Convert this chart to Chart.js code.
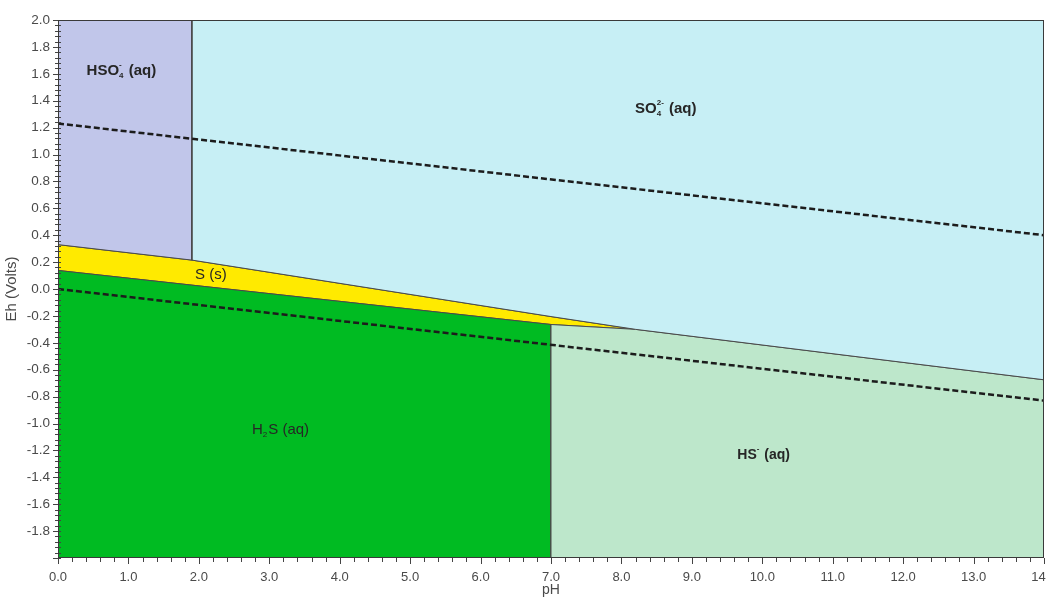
<!DOCTYPE html>
<html>
<head>
<meta charset="utf-8">
<script src="https://cdn.jsdelivr.net/npm/chart.js@4/dist/chart.umd.min.js"></script>
<style>
  html, body { margin: 0; padding: 0; background: #ffffff; overflow: hidden; }
  #wrap { position: relative; width: 1060px; height: 599px; }
</style>
</head>
<body>
<div id="wrap"><canvas id="c"></canvas></div>
<script>
// ---- Region vertices (pH, Eh in volts) ----
const hso4PH = [0, 1.9, 1.9, 0];
const hso4Eh = [2.0, 2.0, 0.215, 0.33];

const so4PH = [1.9, 14, 14, 8.2, 7.0, 1.9];
const so4Eh = [2.0, 2.0, -0.675, -0.30, -0.205, 0.215];

const sPH = [0, 1.9, 7.0, 8.2, 7.0, 0];
const sEh = [0.33, 0.215, -0.205, -0.30, -0.264, 0.138];

const h2sPH = [0, 7.0, 7.0, 0];
const h2sEh = [0.138, -0.264, -2.0, -2.0];

const hsPH = [7.0, 8.2, 14, 14, 7.0];
const hsEh = [-0.264, -0.30, -0.675, -2.0, -2.0];

// ---- Water stability lines ----
const waterUpperPH = [0, 14];
const waterUpperEh = [1.23, 0.40];
const waterLowerPH = [0, 14];
const waterLowerEh = [0.0, -0.83];

// ---- Axis ranges / ticks ----
const xMin = 0, xMax = 14, xStep = 1, xMinorStep = 0.2;
const yMin = -2, yMax = 2, yStep = 0.2, yMinorStep = 0.04;

// ---- Region labels: parts [text, kind, superscript] ----
const regionLabels = [
  { pH: 0.9,  Eh: 1.62,  bold: true,  size: 15, parts: [["HSO",""],["4","sub","-"],[" (aq)",""]] },
  { pH: 8.63, Eh: 1.34,  bold: true,  size: 15, parts: [["SO",""],["4","sub","2-"],[" (aq)",""]] },
  { pH: 2.17, Eh: 0.105, bold: false, size: 15, parts: [["S (s)",""]] },
  { pH: 3.16, Eh: -1.046,bold: false, size: 15, parts: [["H",""],["2","sub",""],["S (aq)",""]] },
  { pH: 10.02,Eh: -1.232,bold: true,  size: 14, parts: [["HS",""],["","sub","-"],[" (aq)",""]] }
];

function pts(xs, ys, close) {
  const p = xs.map((x, i) => ({ x: x, y: ys[i] }));
  if (close) p.push({ x: xs[0], y: ys[0] });
  return p;
}

function region(xs, ys, color) {
  return {
    data: pts(xs, ys, true),
    showLine: true,
    fill: 'shape',
    backgroundColor: color,
    borderColor: '#4a4a4a',
    borderWidth: 1,
    pointRadius: 0,
    order: 2
  };
}

function dashed(xs, ys) {
  return {
    data: pts(xs, ys, false),
    showLine: true,
    fill: false,
    borderColor: '#1c1c1c',
    borderWidth: 2.5,
    borderDash: [6, 3],
    pointRadius: 0,
    order: 0
  };
}

const FONT = '"Liberation Sans", Arial, Helvetica, sans-serif';

const decor = {
  id: 'decor',
  afterDatasetsDraw(chart) {
    const { ctx, scales: { x, y } } = chart;
    ctx.save();
    ctx.fillStyle = '#262626';
    ctx.textBaseline = 'middle';
    regionLabels.forEach(l => {
      const main = (l.bold ? 'bold ' : '') + l.size + 'px ' + FONT;
      const small = (l.bold ? 'bold ' : '') + Math.round(l.size * 0.55) + 'px ' + FONT;
      let total = 0;
      l.parts.forEach(p => {
        if (p[1] === '') { ctx.font = main; total += ctx.measureText(p[0]).width; }
        else { ctx.font = small; total += Math.max(ctx.measureText(p[0]).width, ctx.measureText(p[2]).width) + 1; }
      });
      let cx = x.getPixelForValue(l.pH) - total / 2;
      const cy = y.getPixelForValue(l.Eh);
      ctx.textAlign = 'left';
      l.parts.forEach(p => {
        if (p[1] === '') {
          ctx.font = main; ctx.fillText(p[0], cx, cy);
          cx += ctx.measureText(p[0]).width;
        } else {
          ctx.font = small;
          if (p[0]) ctx.fillText(p[0], cx, cy + l.size * 0.33);
          if (p[2]) ctx.fillText(p[2], cx, cy - l.size * 0.42);
          cx += Math.max(ctx.measureText(p[0]).width, ctx.measureText(p[2]).width) + 1;
        }
      });
    });
    ctx.restore();
  },
  afterDraw(chart) {
    const { ctx, chartArea: a, scales: { x, y } } = chart;
    ctx.save();
    ctx.strokeStyle = '#444';
    ctx.lineWidth = 1;
    ctx.beginPath();
    const nx = Math.round((xMax - xMin) / xMinorStep);
    for (let i = 0; i <= nx; i++) {
      const v = xMin + i * xMinorStep;
      const px = Math.round(x.getPixelForValue(v)) + 0.5;
      const major = i % Math.round(xStep / xMinorStep) === 0;
      ctx.moveTo(px, a.bottom);
      ctx.lineTo(px, a.bottom + (major ? 6 : 4));
    }
    const ny = Math.round((yMax - yMin) / yMinorStep);
    for (let i = 0; i <= ny; i++) {
      const v = yMin + i * yMinorStep;
      const py = Math.round(y.getPixelForValue(v)) + 0.5;
      const major = i % Math.round(yStep / yMinorStep) === 0;
      ctx.moveTo(a.left - (major ? 5 : 3), py);
      ctx.lineTo(a.left + 3, py);
    }
    ctx.stroke();
    ctx.strokeStyle = '#3a3a3a';
    ctx.strokeRect(Math.round(a.left) + 0.5, Math.round(a.top) + 0.5, Math.round(a.width) - 1, Math.round(a.height) - 1);
    ctx.restore();
  }
};

new Chart(document.getElementById('c'), {
  type: 'scatter',
  data: {
    datasets: [
      dashed(waterUpperPH, waterUpperEh),
      dashed(waterLowerPH, waterLowerEh),
      region(hso4PH, hso4Eh, '#c1c6ea'),
      region(so4PH, so4Eh, '#c7eff5'),
      region(hsPH, hsEh, '#bde7cb'),
      region(h2sPH, h2sEh, '#00bb22'),
      region(sPH, sEh, '#ffea00')
    ]
  },
  options: {
    responsive: true,
    maintainAspectRatio: false,
    animation: false,
    layout: { padding: { top: 20, right: 16, left: 0, bottom: 0 } },
    plugins: { legend: { display: false }, tooltip: { enabled: false } },
    scales: {
      x: {
        type: 'linear', min: xMin, max: xMax,
        grid: { display: false },
        border: { display: false },
        ticks: {
          stepSize: xStep, autoSkip: false, maxRotation: 0, padding: 4,
          color: '#4a4a4a', font: { family: FONT, size: 13 },
          callback: v => Number(v).toFixed(1)
        },
        title: { display: true, text: 'pH', color: '#4a4a4a', font: { family: FONT, size: 14 }, padding: { top: 0, bottom: 0 } },
        afterFit: s => { s.height = 41; s.paddingRight = 0; s.paddingLeft = 0; }
      },
      y: {
        type: 'linear', min: yMin, max: yMax,
        grid: { display: false },
        border: { display: false },
        ticks: {
          stepSize: yStep, autoSkip: false, padding: 0,
          color: '#4a4a4a', font: { family: FONT, size: 13.5 },
          callback: v => (Math.abs(v - yMin) < 1e-9 ? '' : (Math.abs(v) < 1e-9 ? '0.0' : Number(v).toFixed(1)))
        },
        title: { display: true, text: 'Eh (Volts)', color: '#4a4a4a', font: { family: FONT, size: 15 }, padding: { top: 3, bottom: 0 } },
        afterFit: s => { s.width = 58; }
      }
    }
  },
  plugins: [decor]
});
</script>
</body>
</html>
